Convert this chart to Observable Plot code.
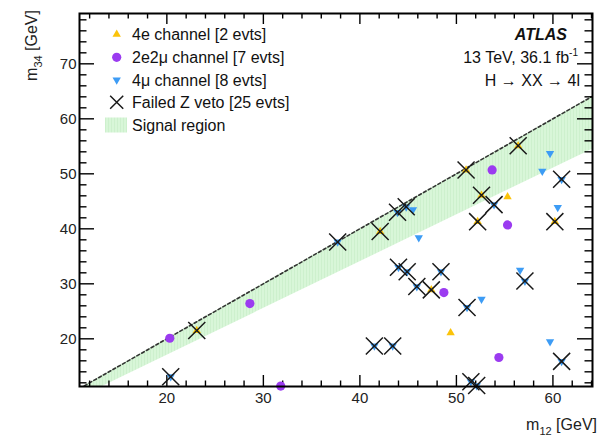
<!DOCTYPE html>
<html><head><meta charset="utf-8">
<script src="https://cdn.jsdelivr.net/npm/d3@7"></script>
<script src="https://cdn.jsdelivr.net/npm/@observablehq/plot@0.6"></script>
<style>body{margin:0;background:#fff;} svg{font-family:"Liberation Sans",Arial,Helvetica,sans-serif;}</style>
</head><body><div id="chart"></div>
<script>
// ---- data (m12, m34 in GeV) ----
const ch4e_m12 = [55.3, 49.4];
const ch4e_m34 = [45.8, 21.1];
const ch2e2mu_m12 = [20.3, 28.6, 31.8, 53.7, 55.3, 48.7, 54.4];
const ch2e2mu_m34 = [20.1, 26.4, 11.4, 50.7, 40.7, 28.4, 16.6];
const ch4mu_m12 = [45.5, 46.1, 59.7, 58.9, 60.5, 52.6, 56.6, 59.7];
const ch4mu_m34 = [43.5, 38.4, 53.7, 50.5, 43.9, 27.2, 32.5, 19.5];
const zveto_m12 = [20.4, 23.1, 37.7, 42.1, 43.9, 44.8, 51.0, 52.6, 53.9, 52.2, 56.4, 60.9, 60.2, 44.0, 44.9, 48.4, 45.9, 47.4, 51.1, 57.1, 41.5, 43.4, 60.9, 51.5, 52.1];
const zveto_m34 = [13.1, 21.5, 37.6, 39.5, 43.0, 44.0, 50.7, 46.1, 44.4, 41.3, 55.1, 49.0, 41.3, 33.0, 32.2, 32.2, 29.5, 28.9, 25.7, 30.5, 18.7, 18.7, 15.9, 12.2, 11.5];
const zveto_channel = ["4mu","4e","4mu","4e","4mu","4mu","4e","4e","4mu","4e","4e","4mu","4e","4mu","4mu","4mu","4mu","4e","4mu","4mu","4mu","4mu","4mu","4mu","4mu"];
const signalUpperRatio = 1.0;   // m34 < m12
const signalLowerRatio = 0.85;  // m34 > 0.85 m12
const xTicks = [20, 30, 40, 50, 60];
const yTicks = [20, 30, 40, 50, 60, 70];
const legendLabels = ["4e channel [2 evts]", "2e2\u03bc channel [7 evts]", "4\u03bc channel [8 evts]", "Failed Z veto [25 evts]", "Signal region"];
const xDomain = [10.95, 64.1];
const yDomain = [11.33, 79.15];

const col4e = "#fbc30a", col2e2mu = "#9b3bf0", col4mu = "#3d9cf5";

const W = 600, H = 442, mL = 79, mR = 8, mT = 13, mB = 56;
const pw = W - mL - mR, ph = H - mT - mB;

const pts = (xs, ys) => xs.map((x, i) => ({x, y: ys[i]}));
const p4e = pts(ch4e_m12, ch4e_m34);
const p2e2mu = pts(ch2e2mu_m12, ch2e2mu_m34);
const p4mu = pts(ch4mu_m12, ch4mu_m34);
const pz = zveto_m12.map((x, i) => ({x, y: zveto_m34[i], c: zveto_channel[i]}));
const band = xDomain.map(x => ({x, lo: signalLowerRatio * x, hi: signalUpperRatio * x}));
const xMinor = d3.range(12, 65, 2).filter(v => !xTicks.includes(v));
const yMinor = d3.range(12, 79, 2).filter(v => !yTicks.includes(v));

const plot = Plot.plot({
  width: W, height: H, marginLeft: mL, marginRight: mR, marginTop: mT, marginBottom: mB,
  x: {domain: xDomain, axis: null},
  y: {domain: yDomain, axis: null},
  marks: [
    Plot.areaY(band, {x: "x", y1: "lo", y2: "hi", fill: "url(#hatch)", clip: true}),
    Plot.line(band, {x: "x", y: "hi", stroke: "#333", strokeWidth: 1.6, strokeDasharray: "3,2.5", clip: true}),
    // ticks inside frame
    Plot.tickX(xTicks, {x: d => d, stroke: "#000", strokeWidth: 1.4, insetTop: ph - 11}),
    Plot.tickX(xMinor, {x: d => d, stroke: "#000", strokeWidth: 1.4, insetTop: ph - 5.5}),
    Plot.tickX(xTicks, {x: d => d, stroke: "#000", strokeWidth: 1.4, insetBottom: ph - 11}),
    Plot.tickX(xMinor, {x: d => d, stroke: "#000", strokeWidth: 1.4, insetBottom: ph - 5.5}),
    Plot.tickY(yTicks, {y: d => d, stroke: "#000", strokeWidth: 1.4, insetRight: pw - 15}),
    Plot.tickY(yMinor, {y: d => d, stroke: "#000", strokeWidth: 1.4, insetRight: pw - 7.5}),
    Plot.tickY(yTicks, {y: d => d, stroke: "#000", strokeWidth: 1.4, insetLeft: pw - 15}),
    Plot.tickY(yMinor, {y: d => d, stroke: "#000", strokeWidth: 1.4, insetLeft: pw - 7.5}),
    // points
    Plot.dot(p2e2mu, {x: "x", y: "y", r: 4.6, fill: col2e2mu}),
    Plot.dot(p4e, {x: "x", y: "y", symbol: "triangle", r: 3.1, fill: col4e}),
    Plot.dot(p4mu, {x: "x", y: "y", symbol: "triangle", rotate: 180, r: 3.1, fill: col4mu}),
    Plot.dot(pz.filter(d => d.c === "4e"), {x: "x", y: "y", symbol: "triangle", r: 3.1, fill: col4e}),
    Plot.dot(pz.filter(d => d.c === "4mu"), {x: "x", y: "y", symbol: "triangle", rotate: 180, r: 3.1, fill: col4mu}),
    Plot.dot(pz, {x: "x", y: "y", symbol: "times", r: 7.8, stroke: "#1a1a1a", strokeWidth: 1.5}),
    Plot.frame({stroke: "#000", strokeWidth: 2}),
    // tick labels
    Plot.text(xTicks, {x: d => d, frameAnchor: "bottom", dy: 6, lineAnchor: "top", fontSize: 15, fill: "#222"}),
    Plot.text(yTicks, {y: d => d, frameAnchor: "left", dx: -3, textAnchor: "end", fontSize: 15, fill: "#222"})
  ]
});
document.getElementById("chart").appendChild(plot);

const svg = d3.select(plot);
const defs = svg.insert("defs", ":first-child");
const pat = defs.append("pattern").attr("id", "hatch").attr("patternUnits", "userSpaceOnUse").attr("width", 3).attr("height", 3);
pat.append("rect").attr("width", 3).attr("height", 3).attr("fill", "#d8f6d8");
pat.append("line").attr("x1", 0.5).attr("x2", 0.5).attr("y1", 0).attr("y2", 3).attr("stroke", "#cdf0cd").attr("stroke-width", 1);

// legend
const lg = svg.append("g").attr("font-size", 16).attr("fill", "#111").attr("text-anchor", "start");
const mx = 116.7, rows = [34.3, 57.3, 80, 102.3, 125];
const sym = (type, r) => d3.symbol(type, Math.PI * r * r)();
lg.append("path").attr("d", sym(d3.symbolTriangle, 3.1)).attr("transform", `translate(${mx},${rows[0]})`).attr("fill", col4e);
lg.append("circle").attr("cx", mx).attr("cy", rows[1]).attr("r", 4.6).attr("fill", col2e2mu);
lg.append("path").attr("d", sym(d3.symbolTriangle, 3.1)).attr("transform", `translate(${mx},${rows[2]}) rotate(180)`).attr("fill", col4mu);
lg.append("path").attr("d", sym(d3.symbolTimes, 6)).attr("transform", `translate(${mx},${rows[3]})`).attr("stroke", "#1a1a1a").attr("stroke-width", 1.5).attr("fill", "none");
lg.append("rect").attr("x", 105).attr("y", rows[4] - 7.5).attr("width", 22).attr("height", 15).attr("fill", "url(#hatch)");
legendLabels.forEach((t, i) => {
  lg.append("text").attr("x", 132).attr("y", rows[i]).attr("dy", "0.36em").attr("text-anchor", "start").text(t);
});

// ATLAS annotation
const an = svg.append("g").attr("font-size", 16).attr("fill", "#111").attr("text-anchor", "end");
an.append("text").attr("x", 567).attr("y", 40).attr("font-weight", "bold").attr("font-style", "italic").text("ATLAS");
const t2 = an.append("text").attr("x", 578).attr("y", 63);
t2.append("tspan").text("13 TeV, 36.1 fb");
t2.append("tspan").attr("font-size", 10).attr("dy", -7).text("-1");
an.append("text").attr("x", 580).attr("y", 86).text("H \u2192 XX \u2192 4l");

// axis titles
const xt = svg.append("text").attr("x", 597).attr("y", 430).attr("text-anchor", "end").attr("font-size", 16).attr("fill", "#222");
xt.append("tspan").text("m");
xt.append("tspan").attr("font-size", 11).attr("dy", 5).text("12");
xt.append("tspan").attr("dy", -5).text(" [GeV]");
const yt = svg.append("text").attr("transform", "translate(37,10) rotate(-90)").attr("text-anchor", "end").attr("font-size", 16).attr("fill", "#222");
yt.append("tspan").text("m");
yt.append("tspan").attr("font-size", 11).attr("dy", 5).text("34");
yt.append("tspan").attr("dy", -5).text(" [GeV]");
</script></body></html>
